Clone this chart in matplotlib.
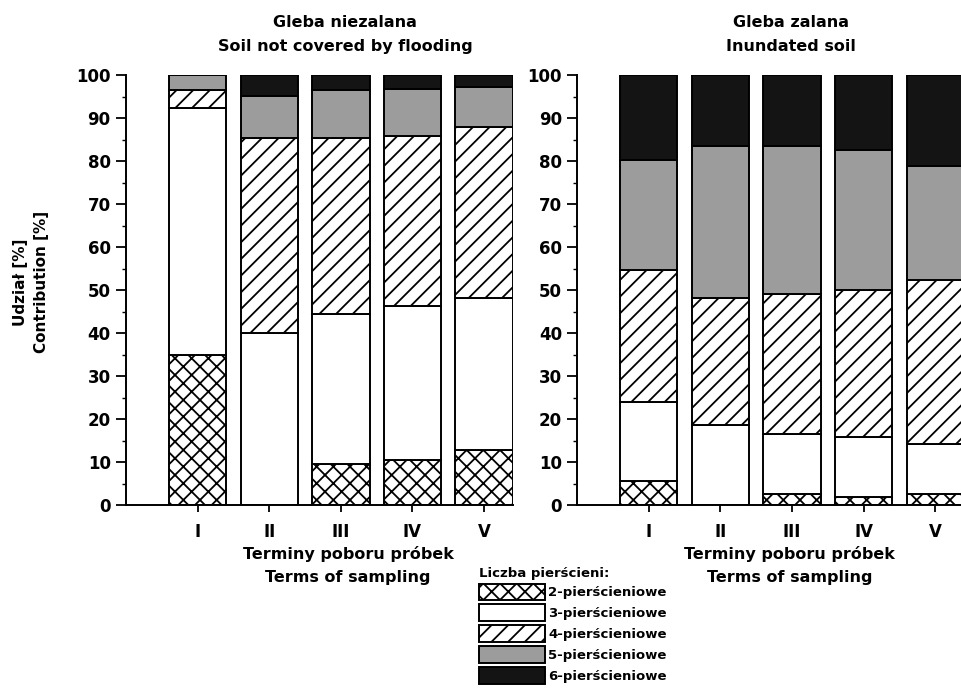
import matplotlib
matplotlib.use('Agg')
import matplotlib.pyplot as plt
import numpy as np
from matplotlib.patches import Patch

plt.rcParams['font.family'] = ['Liberation Sans Narrow', 'DejaVu Sans']
plt.rcParams['font.weight'] = 'bold'
plt.rcParams['hatch.linewidth'] = 1.3

TERMS = ['I', 'II', 'III', 'IV', 'V']
RING_LABELS = ['2-pierścieniowe', '3-pierścieniowe', '4-pierścieniowe',
               '5-pierścieniowe', '6-pierścieniowe']

# Gleba niezalana / soil not covered by flooding
dry_ring2 = [35.0, 0.0, 9.5, 10.5, 12.8]
dry_ring3 = [57.3, 40.0, 35.0, 35.8, 35.3]
dry_ring4 = [4.4, 45.3, 41.0, 39.5, 39.9]
dry_ring5 = [3.3, 10.0, 11.0, 11.1, 9.3]
dry_ring6 = [0.0, 4.7, 3.5, 3.1, 2.7]

# Gleba zalana / inundated soil
wet_ring2 = [5.6, 0.0, 2.6, 1.9, 2.6]
wet_ring3 = [18.4, 18.6, 13.9, 14.0, 11.6]
wet_ring4 = [30.7, 29.7, 32.6, 34.1, 38.1]
wet_ring5 = [25.5, 35.2, 34.4, 32.6, 26.5]
wet_ring6 = [19.8, 16.5, 16.5, 17.4, 21.2]

STYLES = [
    dict(facecolor='white', hatch='xx'),
    dict(facecolor='white', hatch=''),
    dict(facecolor='white', hatch='//'),
    dict(facecolor='#9c9c9c', hatch=''),
    dict(facecolor='#141414', hatch=''),
]


def stacked(ax, series):
    x = np.arange(1, len(TERMS) + 1)
    bottom = np.zeros(len(TERMS))
    for vals, st in zip(series, STYLES):
        vals = np.asarray(vals, dtype=float)
        ax.bar(x, vals, width=0.8, bottom=bottom, edgecolor='black',
               linewidth=1.4, **st)
        bottom += vals
    ax.set_xlim(0, 5.4)
    ax.set_ylim(0, 100)
    ax.set_xticks(x)
    ax.set_xticklabels(TERMS, fontsize=12)
    ax.set_yticks(np.arange(0, 101, 10))
    ax.set_yticks(np.arange(5, 100, 10), minor=True)
    ax.tick_params(axis='y', which='major', length=7, width=1.3, labelsize=12, pad=4)
    ax.tick_params(axis='y', which='minor', length=3, width=1.0)
    ax.tick_params(axis='x', length=5, width=1.3, pad=8)
    for s in ('top', 'right'):
        ax.spines[s].set_visible(False)
    for s in ('left', 'bottom'):
        ax.spines[s].set_linewidth(1.4)


fig = plt.figure(figsize=(9.62, 6.91), dpi=100)
ax1 = fig.add_axes([0.131, 0.269, 0.402, 0.622])
ax2 = fig.add_axes([0.600, 0.269, 0.402, 0.622])

stacked(ax1, [dry_ring2, dry_ring3, dry_ring4, dry_ring5, dry_ring6])
stacked(ax2, [wet_ring2, wet_ring3, wet_ring4, wet_ring5, wet_ring6])

fig.text(0.359, 0.950, 'Gleba niezalana\nSoil not covered by flooding',
         ha='center', va='center', fontsize=11.5, linespacing=1.75)
fig.text(0.822, 0.950, 'Gleba zalana\nInundated soil',
         ha='center', va='center', fontsize=11.5, linespacing=1.75)
fig.text(0.362, 0.182, 'Terminy poboru próbek\nTerms of sampling',
         ha='center', va='center', fontsize=11.5, linespacing=1.65)
fig.text(0.821, 0.182, 'Terminy poboru próbek\nTerms of sampling',
         ha='center', va='center', fontsize=11.5, linespacing=1.65)
fig.text(0.032, 0.592, 'Udział [%]\nContribution [%]', rotation=90,
         ha='center', va='center', fontsize=11, linespacing=1.5)

handles = [Patch(edgecolor='black', linewidth=1.4, label=lab, **st)
           for lab, st in zip(RING_LABELS, STYLES)]
leg = fig.legend(handles=handles, loc='upper left', bbox_to_anchor=(0.497, 0.182),
                 title='Liczba pierścieni:', fontsize=9.5, title_fontsize=9.5,
                 handlelength=5.0, handleheight=1.6, handletextpad=0.2,
                 labelspacing=0.3, borderpad=0.1, borderaxespad=0,
                 frameon=True, fancybox=False, alignment='left')
leg.get_frame().set_edgecolor('none')
leg.get_frame().set_facecolor('white')
leg.set_zorder(10)

fig.savefig('out.png', dpi=100)
